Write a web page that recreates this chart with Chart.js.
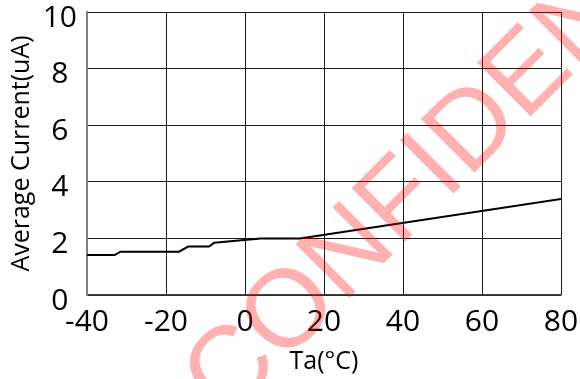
<!DOCTYPE html>
<html>
<head>
<meta charset="utf-8">
<style>
  html, body { margin: 0; padding: 0; background: #fff; }
  #wrap { width: 580px; height: 379px; }
</style>
</head>
<body>
<div id="wrap"><canvas id="myChart" width="580" height="379"></canvas></div>

<script src="https://cdn.jsdelivr.net/npm/chart.js@4/dist/chart.umd.min.js"></script>
<script>
    // values
    const tempC = [-40, -33, -31.5, -16.7, -14.4, -9.1, -7.8, 4, 13.9, 80];
    const currentUA = [1.41, 1.41, 1.53, 1.53, 1.71, 1.71, 1.85, 2.0, 2.0, 3.39];
    const xTicks = [-40, -20, 0, 20, 40, 60, 80];
    const yTicks = [0, 2, 4, 6, 8, 10];

    const points = tempC.map((t, i) => ({ x: t, y: currentUA[i] }));

    // red diagonal watermark, drawn on top of everything
    const watermark = {
        id: 'watermark',
        afterDraw(chart) {
            const ctx = chart.ctx;
            ctx.save();
            ctx.translate(226, 421);
            ctx.rotate(-Math.PI / 4);
            ctx.font = '110px "Liberation Sans", Arial, sans-serif';
            ctx.fillStyle = 'rgba(255, 0, 0, 0.31)';
            ctx.textAlign = 'left';
            ctx.textBaseline = 'alphabetic';
            ctx.fillText('CONFIDENTIAL', 0, 0);
            ctx.restore();
        }
    };

    const tickFont = { family: '"Open Sans", sans-serif', size: 30 };
    const titleFont = { family: '"Open Sans", sans-serif', size: 25 };

    const ctx = document.getElementById('myChart');

    let chart = new Chart(ctx, {
        type: 'line',
        data: {
            datasets: [{
                label: 'Average Current',
                data: points,
                borderColor: '#000',
                borderWidth: 2,
                pointRadius: 0,
                tension: 0,
                fill: false
            }]
        },
        options: {
            responsive: false,
            animation: false,
            layout: { padding: { left: 0, right: 19, top: 12, bottom: 0 } },
            plugins: {
                legend: { display: false },
                tooltip: { enabled: false }
            },
            scales: {
                x: {
                    type: 'linear',
                    min: xTicks[0],
                    max: xTicks[xTicks.length - 1],
                    afterBuildTicks: (scale) => { scale.ticks = xTicks.map(v => ({ value: v })); },
                    afterFit: (scale) => {
                        scale.height = 84;
                        scale.paddingLeft = 0;
                        scale.paddingRight = 0;
                    },
                    grid: { color: '#1a1a1a', lineWidth: 1, drawTicks: false },
                    border: { color: '#404040', width: 1.5 },
                    ticks: { color: '#000', font: tickFont, padding: 9, maxRotation: 0 },
                    title: {
                        display: true,
                        text: 'Ta(°C)',
                        color: '#000',
                        font: titleFont,
                        padding: { top: 0, bottom: 2 }
                    }
                },
                y: {
                    min: yTicks[0],
                    max: yTicks[yTicks.length - 1],
                    afterBuildTicks: (scale) => { scale.ticks = yTicks.map(v => ({ value: v })); },
                    afterFit: (scale) => {
                        scale.width = 87;
                        scale.paddingTop = 0;
                        scale.paddingBottom = 0;
                    },
                    grid: { color: '#1a1a1a', lineWidth: 1, drawTicks: false },
                    border: { color: '#808080', width: 2 },
                    ticks: {
                        color: '#000',
                        font: tickFont,
                        padding: 10,
                        crossAlign: 'center',
                        labelOffset: 6
                    },
                    title: {
                        display: true,
                        text: 'Average Current(uA)',
                        color: '#000',
                        font: titleFont,
                        padding: { top: 7, bottom: 0 }
                    }
                }
            }
        },
        plugins: [watermark]
    });
</script>
</body>
</html>
